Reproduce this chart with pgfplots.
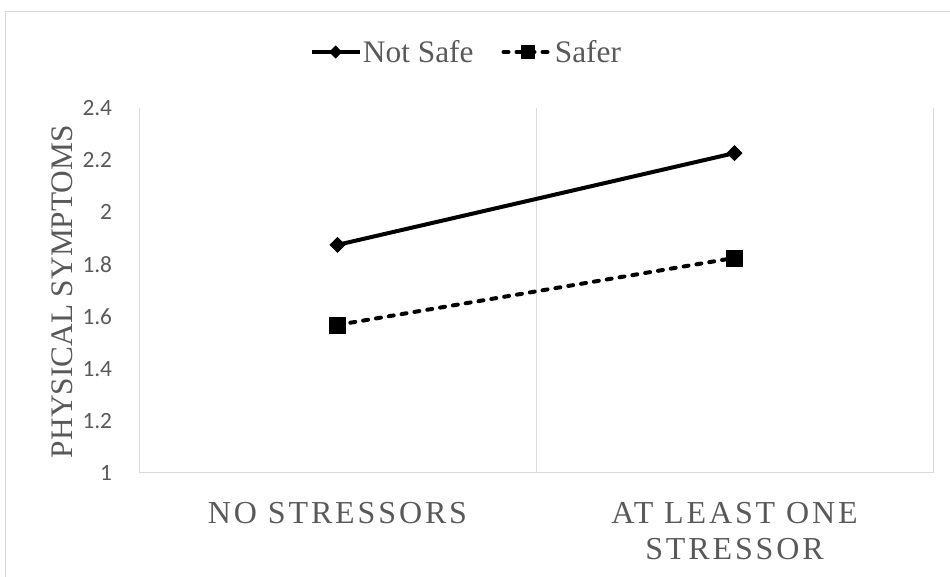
\documentclass[border=0pt]{standalone}
\usepackage{fontspec}
\setmainfont{Liberation Serif}
\newfontfamily\carlito{Carlito}
\newfontfamily\spaced[LetterSpace=9]{Liberation Serif}
\usepackage{pgfplots}
\pgfplotsset{compat=1.18}
\definecolor{txt}{HTML}{595959}
\definecolor{grd}{HTML}{D9D9D9}
\begin{document}
\begin{tikzpicture}
\useasboundingbox (0,0) rectangle (712.5pt,432.75pt);
\draw[grd, line width=0.75pt] (3.75pt,-5pt) -- (3.75pt,423.75pt) -- (720pt,423.75pt);
\begin{axis}[
  at={(104.25pt,78pt)}, anchor=south west,
  scale only axis, width=595.5pt, height=273.75pt,
  xmin=0.5, xmax=2.5, ymin=1, ymax=2.4,
  ytick={1,1.2,1.4,1.6,1.8,2,2.2,2.4},
  xtick={1,2},
  xticklabels={NO STRESSORS,{AT LEAST ONE\\STRESSOR}},
  minor xtick={0.5,1.5,2.5},
  xminorgrids,
  minor grid style={grd, line width=0.75pt},
  axis x line*=bottom, axis y line*=left,
  axis line style={grd, line width=0.75pt, -},
  major tick length=0pt, minor tick length=0pt,
  /pgf/number format/assume math mode=true,
  yticklabel style={font=\carlito\fontsize{17.5}{19}\selectfont, text=txt, anchor=east, inner sep=0pt, xshift=-20pt},
  xticklabel style={font=\spaced\fontsize{24}{27}\selectfont, text=txt, anchor=north, align=center, inner sep=0pt, yshift=-21.75pt},
  ylabel={PHYSICAL SYMPTOMS},
  every axis y label/.style={at={(axis description cs:-0.097,0.497)}, rotate=90, anchor=center, font=\fontsize{23.5}{26}\selectfont, text=txt},
  legend style={at={(axis description cs:0.4118,1.1534)}, anchor=center, draw=none, fill=none, legend columns=2,
    font=\fontsize{23.5}{26}\selectfont, text=txt,
    /tikz/every even column/.append style={column sep=20pt},
    nodes={inner sep=1pt}},
  legend cell align=left,
  legend image code/.code={
    \draw[#1, mark=none] (0pt,0pt) -- (36pt,0pt);
    \draw[#1, every mark/.append style={scale=0.8}] plot coordinates {(18pt,0pt)};
  },
]
\addplot[black, line width=3pt, mark=square*, mark size=4pt, mark options={rotate=45, line width=0.5pt, solid}]
  coordinates {(1,1.875) (2,2.227)};
\addlegendentry{Not Safe}
\addplot[black, line width=3pt, line cap=round, dash pattern=on 3.75pt off 6pt, mark=square*, mark size=6pt, mark options={line width=0.5pt, solid}]
  coordinates {(1,1.568) (2,1.825)};
\addlegendentry{Safer}
\end{axis}
\end{tikzpicture}
\end{document}
